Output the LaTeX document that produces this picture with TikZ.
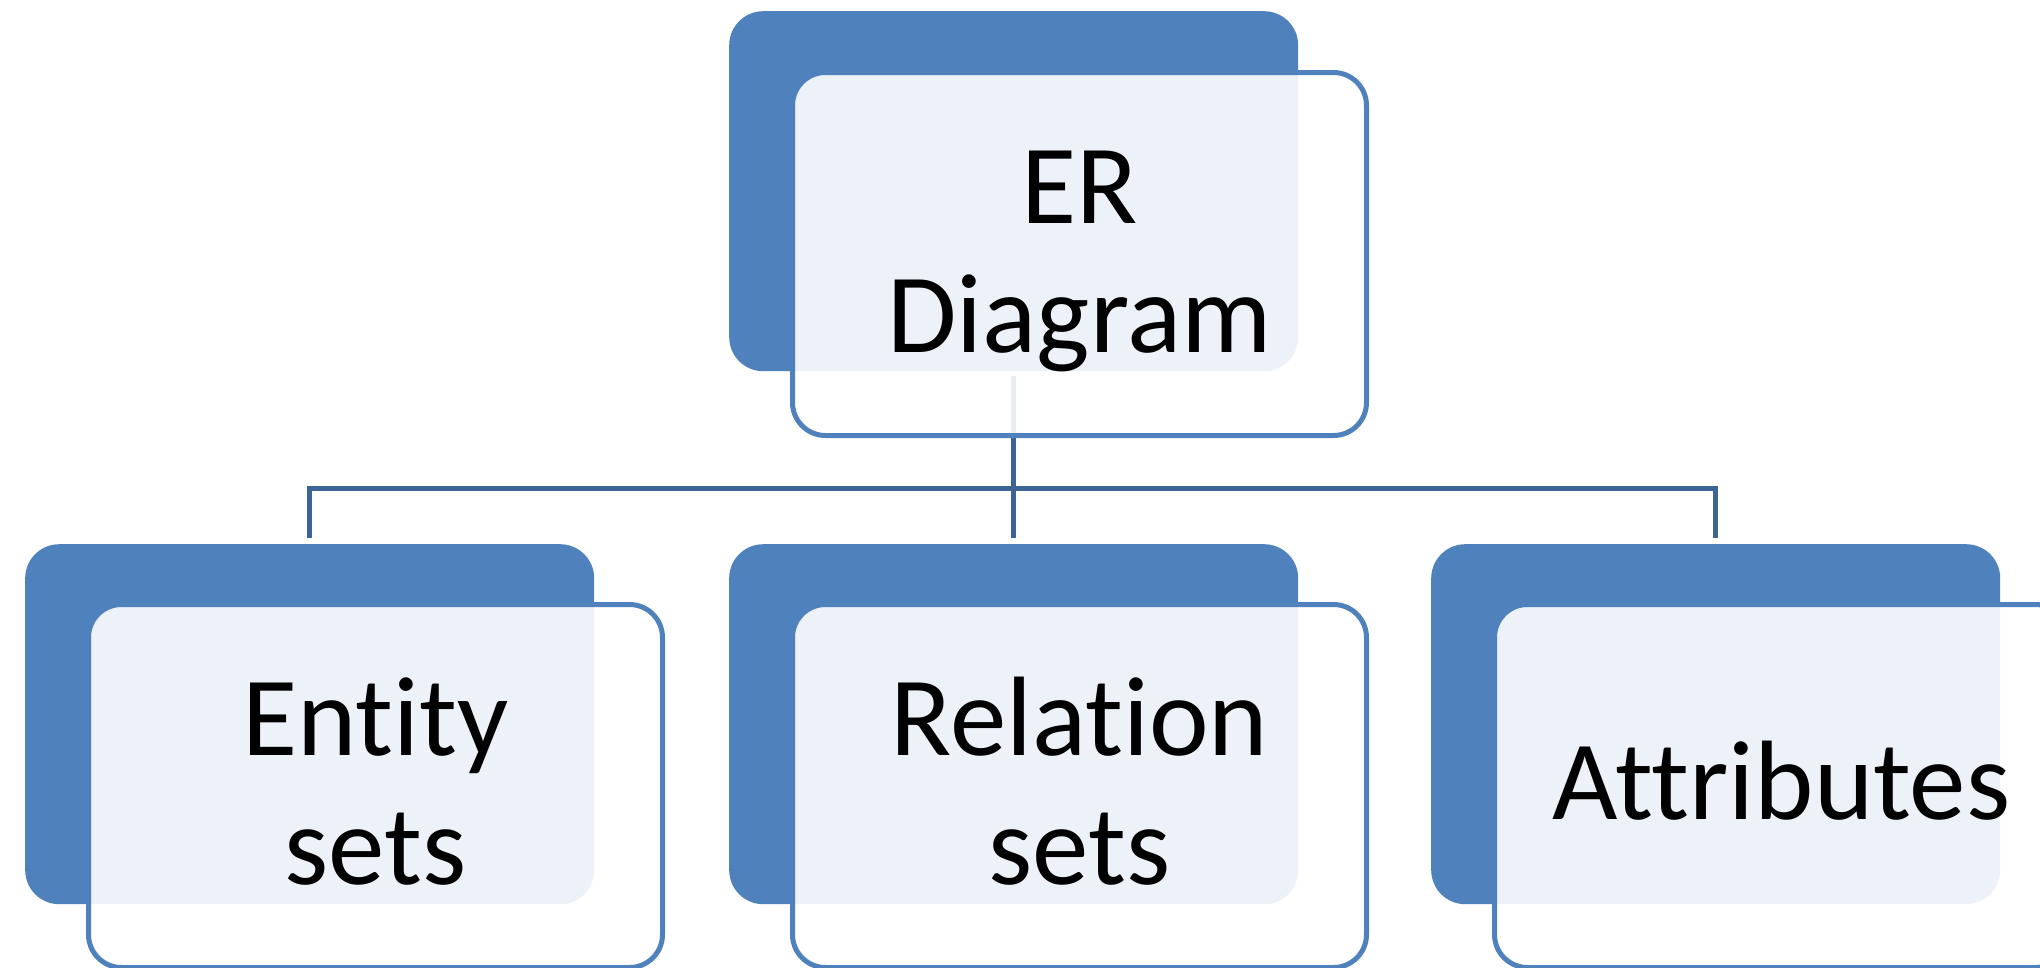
\documentclass[tikz,border=0pt]{standalone}
\usepackage{fontspec}
\setmainfont{Carlito}[Ligatures={NoCommon}]
\usetikzlibrary{calc}
\definecolor{accent}{HTML}{4F81BD}
\definecolor{linkblue}{HTML}{3C6496}
\tikzset{
  backbox/.style={anchor=north west, fill=accent, draw=none, rounded corners=34pt,
    minimum width=569pt, minimum height=360pt, inner sep=0pt},
  frontbox/.style={anchor=north west, fill=white, fill opacity=0.9, draw=accent,
    line width=5pt, rounded corners=33pt, minimum width=574pt, minimum height=363pt, inner sep=0pt},
  conn/.style={draw=linkblue, line width=5pt},
  label/.style={anchor=base, inner sep=0pt, font=\fontsize{113}{129}\selectfont}
}
\begin{document}
\begin{tikzpicture}[x=1pt, y=-1pt]
  \useasboundingbox (0,0) rectangle (2040,967);

  % back plates
  \node[backbox] (tb) at (729,11) {};
  \node[backbox] (lb) at (25,544) {};
  \node[backbox] (mb) at (729,544) {};
  \node[backbox] (rb) at (1431,544) {};

  % hierarchy connectors
  \coordinate (bus) at (1013,488);
  \draw[conn] ([yshift=-5pt]tb.south) -- (tb.south |- bus);
  \draw[conn] ([yshift=6pt]lb.north) |- (bus) -| ([yshift=6pt]rb.north);
  \draw[conn] ([yshift=6pt]mb.north) -- (mb.north |- bus);

  % front cards
  \node[frontbox] (tf) at (790,70) {};
  \node[frontbox] (lf) at (86,602) {};
  \node[frontbox] (mf) at (790,602) {};
  \node[frontbox] (rf) at (1492,602) {};

  % labels
  \node[label] (tt) at ($(tf.center)+(0,-31)$)
    {\begin{tabular}[t]{@{}c@{}}ER\\Diagram\end{tabular}};
  \node[label] (lt) at ($(lf.center)+(0,-31)$)
    {\begin{tabular}[t]{@{}c@{}}Entity\\sets\end{tabular}};
  \node[label] (mt) at ($(mf.center)+(0,-31)$)
    {\begin{tabular}[t]{@{}c@{}}Relation\\sets\end{tabular}};
  \node[label] (rt) at ($(rf.center)+(0,33)$) {Attributes};
\end{tikzpicture}
\end{document}
